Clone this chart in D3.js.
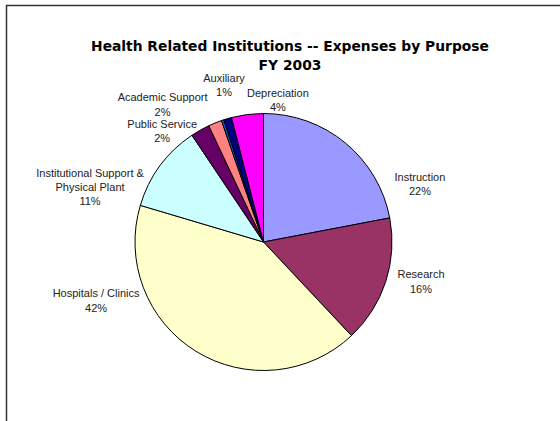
<!DOCTYPE html>
<html><head><meta charset="utf-8">
<script src="https://cdn.jsdelivr.net/npm/d3@7"></script>
<style>body{margin:0;background:#fff}svg{display:block}</style>
</head><body><svg id="c" width="560" height="421"></svg>
<script>
const categories = ["Instruction","Research","Hospitals / Clinics","Institutional Support & Physical Plant","Public Service","Academic Support","","Auxiliary","Depreciation"];
const values = [22.0, 16.0, 41.6, 11.0, 2.4, 1.7, 0.3, 1.0, 4.0];
const colors = ["#9999FF","#993366","#FFFFCC","#CCFFFF","#660066","#FF8080","#0066CC","#000080","#FF00FF"];
const titleLines = ["Health Related Institutions -- Expenses by Purpose","FY 2003"];

// label layout: polar angle (deg, clockwise from top) and distance from pie centre
const labelLayout = {
  "Instruction":[69.8,166.7],
  "Research":[104.1,162.4],
  "Hospitals / Clinics":[250.7,177.4],
  "Institutional Support & Physical Plant":[287.6,182],
  "Public Service":[317.5,150],
  "Academic Support":[323.7,170.5],
  "Auxiliary":[345.9,162],
  "Depreciation":[5.8,142.7]
};
const labelLines = {
  "Institutional Support & Physical Plant":["Institutional Support &","Physical Plant"]
};

const svg = d3.select("#c");
const W=560,H=421, cx=263.5, cy=242, R=128.5;

// frame
svg.append("path").attr("d",`M6.5,${H} V5.5 H${W}`).attr("fill","none").attr("stroke","#333").attr("stroke-width",1.5);

// title
const t = svg.append("text").attr("text-anchor","middle")
  .attr("font-family","DejaVu Sans, Verdana, sans-serif").attr("font-weight","bold")
  .attr("font-size",13).attr("fill","#000");
const tsp = titleLines.map((s,i)=>t.append("tspan").attr("x",290).attr("y",51+i*19).text(s));
const w0 = tsp[0].node().getComputedTextLength();
t.attr("font-size", 13*398/w0);

const data = categories.map((c,i)=>({name:c,value:values[i],color:colors[i]}));
const total = d3.sum(values);
const pie = d3.pie().value(d=>d.value).sort(null).startAngle(0).endAngle(2*Math.PI);
const arc = d3.arc().innerRadius(0).outerRadius(R);
const g = svg.append("g").attr("transform",`translate(${cx},${cy})`);
const arcs = pie(data);
g.selectAll("path").data(arcs).join("path")
  .attr("d",arc).attr("fill",d=>d.data.color)
  .attr("stroke","#000").attr("stroke-width",1).attr("stroke-linejoin","round");

// labels
const lh = 14.3;
arcs.forEach(a=>{
  const name = a.data.name;
  if(!labelLayout[name]) return;
  const [deg,dist] = labelLayout[name];
  const [x,y] = d3.pointRadial(deg*Math.PI/180, dist);
  const lines = (labelLines[name]||[name]).concat([Math.round(a.data.value/total*100)+"%"]);
  const txt = g.append("text").attr("text-anchor","middle")
    .attr("font-family","Liberation Sans, Arial, sans-serif").attr("font-size",11).attr("fill","#222");
  const y0 = y - (lines.length-1)*lh/2;
  lines.forEach((s,i)=>txt.append("tspan").attr("x",x).attr("y",y0+i*lh).attr("dy","0.35em").text(s));
});
</script></body></html>
